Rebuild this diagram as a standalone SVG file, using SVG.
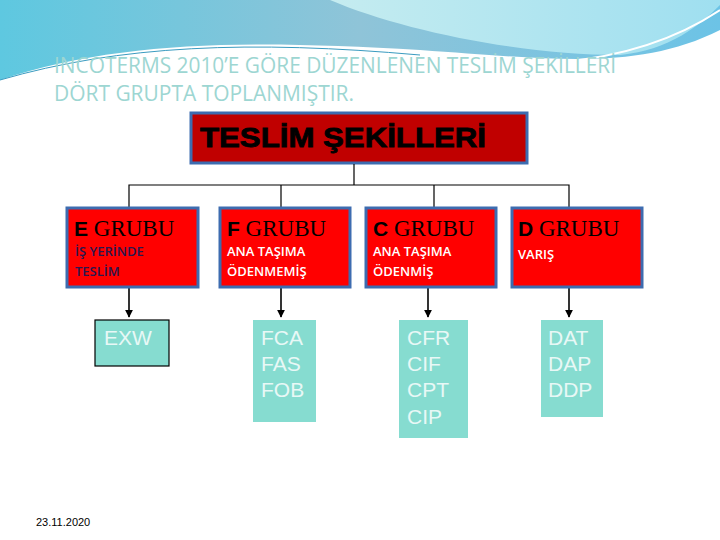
<svg xmlns="http://www.w3.org/2000/svg" width="720" height="540" viewBox="0 0 720 540">
<defs>
<linearGradient id="wv" x1="0" y1="0" x2="1" y2="0"><stop offset="0" stop-color="#5ec8e0"/><stop offset="0.5" stop-color="#8fc4d8"/><stop offset="1" stop-color="#6cc3e6"/></linearGradient>
<linearGradient id="wv2" x1="0" y1="0" x2="1" y2="0"><stop offset="0" stop-color="#c5ecf0"/><stop offset="1" stop-color="#9fdff0"/></linearGradient>
<marker id="ar" viewBox="0 0 10 10" refX="9" refY="5" markerWidth="5" markerHeight="5" orient="auto"><path d="M0,0L10,5L0,10z" fill="#000"/></marker>
<style>
.g{fill:#ff0000;stroke:#3d6cb0;stroke-width:3}
.h{font-family:"Liberation Serif",serif;font-size:23px;fill:#000}
.hl{font-family:"Liberation Sans",sans-serif;font-weight:bold;font-size:21px}
.s{font-family:"Open Sans","Liberation Sans",sans-serif;font-size:13px;font-weight:600;fill:#fff}
.r{fill:#86dcd0}
.rt{font-family:"Liberation Sans",sans-serif;font-size:21px;fill:#e8f8f6}
.c{stroke:#000;stroke-width:1.2;fill:none}
.a{stroke:#000;stroke-width:1.6;fill:none;marker-end:url(#ar)}
</style>
</defs>
<rect width="720" height="540" fill="#fff"/>
<path d="M0,0H720V30C640,70 560,60 420,50C250,40 120,40 0,80Z" fill="url(#wv)"/>
<path d="M330,0C400,30 520,55 620,55C670,50 700,25 720,5V0Z" fill="url(#wv2)"/>
<path d="M0,80C120,45 250,40 420,55" stroke="#3a9bc0" stroke-width="1" fill="none"/>
<path d="M560,62C640,55 690,30 720,10" stroke="#fff" stroke-width="2" fill="none"/>
<text x="54" y="73" font-family="Open Sans, Liberation Sans, sans-serif" font-size="21" fill="#9dd6d2" textLength="562" lengthAdjust="spacingAndGlyphs">INCOTERMS 2010’E GÖRE DÜZENLENEN TESLİM ŞEKİLLERİ</text>
<text x="54" y="101" font-family="Open Sans, Liberation Sans, sans-serif" font-size="21" fill="#9dd6d2" textLength="300" lengthAdjust="spacingAndGlyphs">DÖRT GRUPTA TOPLANMIŞTIR.</text>
<g id="top"><rect x="191" y="113" width="336" height="50" fill="#c00000" stroke="#3d6cb0" stroke-width="3"/><text x="200" y="147" font-family="Liberation Sans, sans-serif" font-weight="bold" font-size="27" fill="#000" stroke="#000" stroke-width="0.8" textLength="286" lengthAdjust="spacingAndGlyphs">TESLİM ŞEKİLLERİ</text></g>
<g id="connectors">
<path class="c" d="M354,164V185M129,208V185H569V208M281,185V208M434,185V208"/>
<path class="a" d="M129,287V317"/>
<path class="a" d="M281,287V317"/>
<path class="a" d="M428,287V317"/>
<path class="a" d="M569,287V317"/>
</g>
<g id="e"><rect class="g" x="67" y="208" width="131" height="79"/><text x="74" y="236"><tspan class="hl">E</tspan><tspan class="h"> GRUBU</tspan></text><text class="s" x="75" y="256" style="fill:#2a1850">İŞ YERİNDE</text><text class="s" x="75" y="276" style="fill:#2a1850">TESLİM</text></g>
<g id="f"><rect class="g" x="220" y="208" width="130" height="79"/><text x="227" y="236"><tspan class="hl" font-size="19">F</tspan><tspan class="h" font-size="20"> GRUBU</tspan></text><text class="s" x="227" y="256">ANA TAŞIMA</text><text class="s" x="227" y="276">ÖDENMEMİŞ</text></g>
<g id="c"><rect class="g" x="366" y="208" width="130" height="79"/><text x="373" y="236"><tspan class="hl">C</tspan><tspan class="h"> GRUBU</tspan></text><text class="s" x="373" y="256">ANA TAŞIMA</text><text class="s" x="373" y="276">ÖDENMİŞ</text></g>
<g id="d"><rect class="g" x="512" y="208" width="130" height="79"/><text x="518" y="236"><tspan class="hl">D</tspan><tspan class="h"> GRUBU</tspan></text><text class="s" x="518" y="259">VARIŞ</text></g>
<g id="exw"><rect class="r" x="95" y="320" width="74" height="46" stroke="#000" stroke-width="1.2"/><text class="rt" x="104" y="345">EXW</text></g>
<g id="fr"><rect class="r" x="253" y="320" width="63" height="102"/><text class="rt" x="261" y="345">FCA</text><text class="rt" x="261" y="371">FAS</text><text class="rt" x="261" y="397">FOB</text></g>
<g id="cr"><rect class="r" x="399" y="320" width="69" height="118"/><text class="rt" x="407" y="345">CFR</text><text class="rt" x="407" y="371">CIF</text><text class="rt" x="407" y="397">CPT</text><text class="rt" x="407" y="424">CIP</text></g>
<g id="dr"><rect class="r" x="541" y="320" width="62" height="97"/><text class="rt" x="548" y="345">DAT</text><text class="rt" x="548" y="371">DAP</text><text class="rt" x="548" y="397">DDP</text></g>
<text x="36" y="526" font-family="Liberation Sans, sans-serif" font-size="11" fill="#000">23.11.2020</text>
</svg>
